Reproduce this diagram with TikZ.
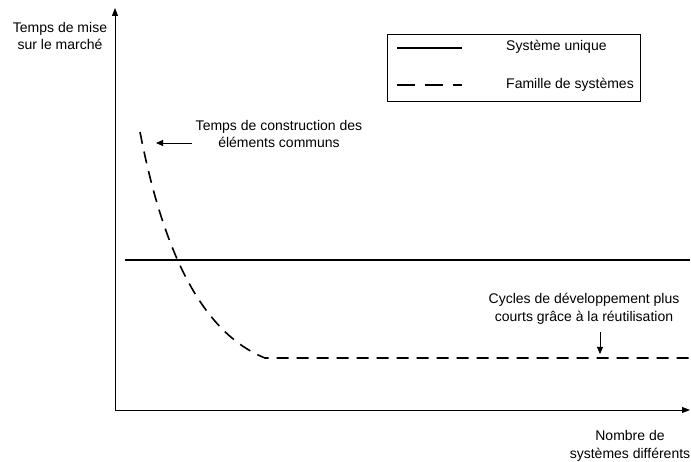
\documentclass[tikz,border=0pt]{standalone}
\usepackage{fontspec}
\setmainfont{Liberation Sans}
\usetikzlibrary{arrows.meta}
\begin{document}
\begin{tikzpicture}[x=1pt,y=-1pt,
  lbl/.style={font=\fontsize{14}{17.5}\selectfont, align=center, inner sep=0pt},
  axis/.style={line width=0.9pt, -{Triangle[length=8pt,width=6pt]}},
  solidcurve/.style={line width=1.6pt},
  dashcurve/.style={line width=1.6pt, dash pattern=on 12pt off 8pt},
  pointer/.style={line width=0.8pt, -{Triangle[length=7pt,width=6pt]}}]
\useasboundingbox (0,0) rectangle (691,462);

% axes
\coordinate (origin) at (115,410);
\coordinate (ytop) at (115,8);
\coordinate (xend) at (690,410);
\draw[axis] (origin) -- (ytop);
\draw[axis] (origin) -- (xend);
\node[lbl] (ylab) at (60,36) {Temps de mise\\sur le marché};
\node[lbl] (xlab) at (630,446) {Nombre de\\systèmes différents};

% legend
\node[draw, line width=0.7pt, minimum width=253pt, minimum height=67pt, inner sep=0pt] (legend) at (514,68) {};
\coordinate (ls1) at (397,48);
\coordinate (le1) at (462,48);
\coordinate (ls2) at (397,85);
\coordinate (le2) at (462,85);
\draw[solidcurve] (ls1) -- (le1);
\draw[dashcurve, dash pattern=on 18pt off 10pt] (ls2) -- (le2);
\node[lbl, anchor=west] (t1) at (506,47) {Système unique};
\node[lbl, anchor=west] (t2) at (506,85) {Famille de systèmes};

% single system
\coordinate (s0) at (125,260);
\coordinate (s1) at (690,260);
\draw[solidcurve] (s0) -- (s1);

% family of systems
\coordinate (c0) at (140,132);
\coordinate (c1) at (265,358);
\coordinate (c2) at (690,358);
\draw[dashcurve] (c0) .. controls (160,235) and (195,330) .. (c1) -- (c2);

% annotations
\node[lbl] (note1) at (279,134) {Temps de construction des\\éléments communs};
\coordinate (a1) at (192,143);
\coordinate (a1e) at (156,143);
\draw[pointer] (a1) -- (a1e);

\node[lbl] (note2) at (584,309) {Cycles de développement plus\\courts grâce à la réutilisation};
\coordinate (a2) at (600,332);
\coordinate (a2e) at (600,354);
\draw[pointer] (a2) -- (a2e);
\end{tikzpicture}
\end{document}
